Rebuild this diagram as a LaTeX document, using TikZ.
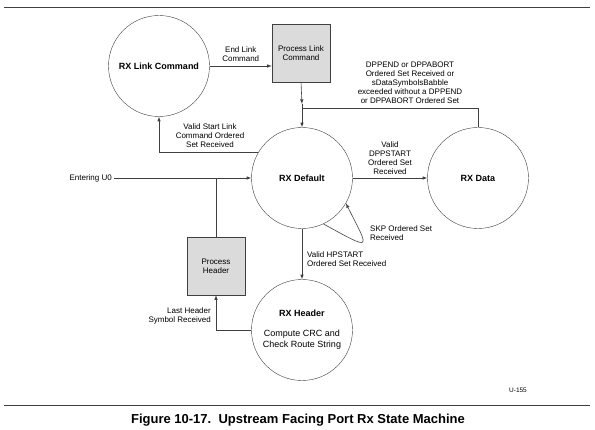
\documentclass[tikz,border=0pt]{standalone}
\usepackage{fontspec}
\setmainfont{Liberation Sans}
\usepackage{tikz}
\usetikzlibrary{arrows}
\usetikzlibrary{calc}
\definecolor{LineGray}{rgb}{0.25,0.25,0.25}
\definecolor{BoxGray}{rgb}{0.86,0.86,0.86}

\begin{document}
\begin{tikzpicture}[x=1pt,y=-1pt,>=latex,
    state/.style={draw=LineGray,circle,minimum size=101pt,inner sep=0pt,font=\fontsize{9}{11}\selectfont\bfseries},
    procbox/.style={draw=LineGray,fill=BoxGray,minimum width=58pt,minimum height=58pt,inner sep=1pt,align=center,font=\fontsize{8}{9}\selectfont},
    lbl/.style={align=center,font=\fontsize{8}{9}\selectfont,inner sep=0pt},
    conn/.style={draw=LineGray,line width=0.6pt}]
      \useasboundingbox (0,0) rectangle (595,430);
      \draw[LineGray,line width=0.9pt] (4,7)--(590,7);
      \draw[LineGray,line width=0.9pt] (4,405)--(590,405);
      % states
      \node[state] (linkcmd) at (159,66) {RX Link Command};
      \node[procbox] (plc) at (301,53) {Process Link\\Command};
      \node[state] (default) at (302,178) {RX Default};
      \node[state] (data) at (478,178) {RX Data};
      \node[state,align=center] (header) at (302,330) {RX Header\\[9pt]{\mdseries Compute CRC and}\\{\mdseries Check Route String}};
      \node[procbox] (prochdr) at (216,266) {Process\\Header};
      \node[lbl,anchor=east,inner sep=2pt] (entry) at (114,178) {Entering U0};
      \coordinate (tip1) at (302,104);
      \coordinate (jtop) at (302,108);
      % connectors
      \draw[conn,->] (linkcmd.east)--(linkcmd.east -| plc.west) node[lbl,midway,above=4pt] {End Link\\Command};
      \draw[conn,->] (plc.south)--(tip1);
      \draw[conn] (tip1)--(jtop);
      \draw[conn,->] (data.north)|-(jtop)--(default.north);
      \node[lbl] (dpplbl) at (410,83) {DPPEND or DPPABORT\\Ordered Set Received or\\sDataSymbolsBabble\\exceeded without a DPPEND\\or DPPABORT Ordered Set};
      \draw[conn,->] (default.150)-|(linkcmd.south);
      \node[lbl] (startlbl) at (210,136) {Valid Start Link\\Command Ordered\\Set Received};
      \draw[conn,->] (entry.east)--(default.west);
      \draw[conn] (prochdr.north)--(prochdr.north |- default.west);
      \draw[conn,->] (default.east)--(data.west);
      \node[lbl] (dpslbl) at (390,158) {Valid\\DPPSTART\\Ordered Set\\Received};
      \draw[conn,->] (default.-65) .. controls (373,251) and (370,251) .. (default.-30);
      \node[lbl,anchor=west,align=left] (skplbl) at (370,233) {SKP Ordered Set\\Received};
      \draw[conn,->] (default.south)--(header.north);
      \node[lbl,anchor=west,align=left] (hplbl) at (307,259) {Valid HPSTART\\Ordered Set Received};
      \draw[conn,->] (header.west)-|(prochdr.south);
      \node[lbl,anchor=east,align=right] (lastlbl) at (211,316) {Last Header\\Symbol Received};
      \node[lbl,font=\fontsize{6.5}{7}\selectfont] (fignum) at (518,390) {U-155};
      \node[font=\fontsize{13}{15}\selectfont\bfseries] (caption) at (298,420) {Figure 10-17.\ \ Upstream Facing Port Rx State Machine};
    \end{tikzpicture}
\end{document}
